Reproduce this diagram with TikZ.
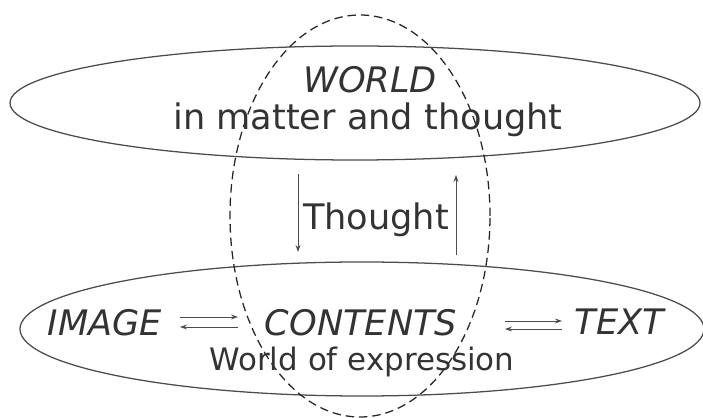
\documentclass[tikz,border=0pt]{standalone}
\usepackage{fontspec}
\setmainfont{DejaVu Sans}
\usetikzlibrary{arrows.meta}

\begin{document}
\begin{tikzpicture}[
    line/.style={draw=black!70,line width=0.9pt},
    txt/.style={font=\fontsize{25}{29}\selectfont,text=black!80,inner sep=0pt},
    head/.style={txt,font=\fontsize{25}{29}\selectfont\itshape},
    flow/.style={line,line width=0.7pt,-{Stealth[length=5pt,width=3.5pt]}}]

\useasboundingbox (0,0) rectangle (17.575,10.45);

% the two worlds and the contents
\draw[line] (8.875,7.875) ellipse (8.625 and 1.425);
\draw[line] (9.05,2.225) ellipse (8.55 and 1.675);
\draw[line,draw=black!85,dash pattern=on 6pt off 3.5pt] (9.0,5.05) ellipse (3.25 and 5.025);

\node[head] (world) at (9.25,8.45) {WORLD};
\node[txt] (matter) at (9.2,7.45) {in matter and thought};
\node[txt] (thought) at (9.4,4.95) {Thought};
\node[head] (image) at (2.625,2.375) {IMAGE};
\node[head] (contents) at (9.025,2.375) {CONTENTS};
\node[head] (text) at (15.48,2.4) {TEXT};
\node[txt,font=\fontsize{22}{26}\selectfont] (expr) at (9.05,1.4) {World of expression};

% arrow ends
\coordinate (down1) at (7.45,6.1);
\coordinate (down2) at (7.45,4.15);
\coordinate (up1) at (11.4,4.075);
\coordinate (up2) at (11.4,6.075);
\coordinate (il1) at (4.5,2.525);
\coordinate (ir1) at (5.95,2.525);
\coordinate (il2) at (4.5,2.275);
\coordinate (ir2) at (5.95,2.275);
\coordinate (tl1) at (12.625,2.425);
\coordinate (tr1) at (14.05,2.425);
\coordinate (tl2) at (12.625,2.225);
\coordinate (tr2) at (14.05,2.225);

\draw[flow] (down1) -- (down2);
\draw[flow] (up1) -- (up2);
\draw[flow] (il1) -- (ir1);
\draw[flow] (ir2) -- (il2);
\draw[flow] (tl1) -- (tr1);
\draw[flow] (tr2) -- (tl2);

\end{tikzpicture}
\end{document}
